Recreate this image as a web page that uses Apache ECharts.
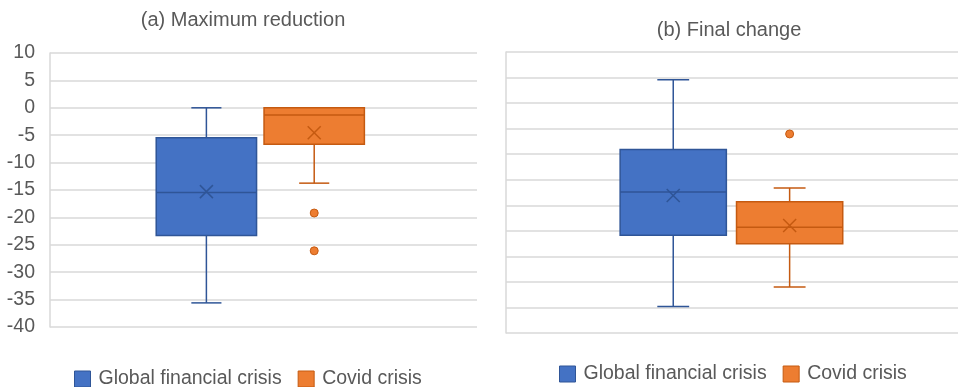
<!DOCTYPE html>
<html>
<head>
<meta charset="utf-8">
<script src="https://cdn.jsdelivr.net/npm/echarts@6/dist/echarts.min.js"></script>
<style>html,body{margin:0;padding:0;background:#fff}#c{width:958px;height:387px}</style>
</head>
<body>
<div id="c"></div>
<script>
// ---- data ----
const seriesNames = ['Global financial crisis', 'Covid crisis'];
const panelTitles = ['(a) Maximum reduction', '(b) Final change'];
const yTicksA = [-40, -35, -30, -25, -20, -15, -10, -5, 0, 5, 10];
const yTicksB = [-35, -30, -25, -20, -15, -10, -5, 0, 5, 10, 15, 20]; // unlabelled in original
// box stats: [min, q1, median, q3, max]
const gfcMaxRed = [-35.6, -23.3, -15.45, -5.45, 0];
const gfcMaxRedMean = -15.3;
const covMaxRed = [-13.75, -6.65, -1.33, 0, 0];
const covMaxRedMean = -4.55;
const covMaxRedOutliers = [-19.2, -26.1];
const gfcFinal = [-29.8, -15.85, -7.4, 0.9, 14.55];
const gfcFinalMean = -8.1;
const covFinal = [-26.0, -17.55, -14.3, -9.3, -6.6];
const covFinalMean = -13.95;
const covFinalOutliers = [3.96];

// ---- style / layout ----
const FONT = 'Liberation Sans';
const TXT = '#595959';
const GRID = '#D9D9D9';
const BLUE = '#4472C4', BLUE_D = '#2F5597';
const ORNG = '#ED7D31', ORNG_D = '#C55A11';
const BOX_W = 0.94;      // in x-axis units
const posA = [1.465, 2.475];
const posB = [1.48, 2.51];

function makeBox(name, axisIdx, xPos, stats, mean, fill, stroke) {
  return {
    type: 'custom', name: name,
    xAxisIndex: axisIdx, yAxisIndex: axisIdx,
    itemStyle: { color: fill, borderColor: stroke },
    encode: { x: 0, y: [1, 2, 3, 4, 5, 6] },
    data: [[xPos].concat(stats).concat([mean])],
    renderItem: function (params, api) {
      const x = api.value(0);
      const p = i => api.coord([x, api.value(i)]);
      const cx = p(1)[0];
      const yMin = p(1)[1], yQ1 = p(2)[1], yMed = p(3)[1], yQ3 = p(4)[1], yMax = p(5)[1], yMean = p(6)[1];
      const w = api.size([BOX_W, 0])[0];
      const cap = w * 0.3;
      const ls = { stroke: stroke, lineWidth: 1.5 };
      const xs = 6.5;
      return {
        type: 'group',
        children: [
          { type: 'line', shape: { x1: cx, y1: yQ3, x2: cx, y2: yMax }, style: ls },
          { type: 'line', shape: { x1: cx, y1: yQ1, x2: cx, y2: yMin }, style: ls },
          { type: 'line', shape: { x1: cx - cap / 2, y1: yMax, x2: cx + cap / 2, y2: yMax }, style: ls },
          { type: 'line', shape: { x1: cx - cap / 2, y1: yMin, x2: cx + cap / 2, y2: yMin }, style: ls },
          { type: 'rect', shape: { x: cx - w / 2, y: yQ3, width: w, height: yQ1 - yQ3 }, style: { fill: fill, stroke: stroke, lineWidth: 1.5 } },
          { type: 'line', shape: { x1: cx - w / 2, y1: yMed, x2: cx + w / 2, y2: yMed }, style: ls },
          { type: 'line', shape: { x1: cx - xs, y1: yMean - xs, x2: cx + xs, y2: yMean + xs }, style: ls },
          { type: 'line', shape: { x1: cx - xs, y1: yMean + xs, x2: cx + xs, y2: yMean - xs }, style: ls }
        ]
      };
    }
  };
}

function makeOutliers(name, axisIdx, xPos, vals) {
  return {
    type: 'scatter', name: name, xAxisIndex: axisIdx, yAxisIndex: axisIdx,
    symbol: 'circle', symbolSize: 8,
    itemStyle: { color: ORNG, borderColor: ORNG_D, borderWidth: 1, opacity: 1 },
    data: vals.map(v => [xPos, v]), silent: true
  };
}

function yAxis(idx, ticks, showLabels) {
  return {
    type: 'value', gridIndex: idx,
    min: ticks[0], max: ticks[ticks.length - 1], interval: ticks[1] - ticks[0],
    axisLine: { show: true, lineStyle: { color: GRID, width: 1.5 } },
    axisTick: { show: false },
    splitLine: { show: true, lineStyle: { color: GRID, width: 1.5 } },
    axisLabel: { show: showLabels, color: TXT, fontFamily: FONT, fontSize: 19.5, margin: 15 }
  };
}

function legend(left, top) {
  return {
    left: left, top: top, orient: 'horizontal', padding: 0,
    itemWidth: 16, itemHeight: 16, itemGap: 16, icon: 'rect',
    textStyle: { color: TXT, fontFamily: FONT, fontSize: 19.5, padding: [0, 0, 0, 3] },
    data: [
      { name: seriesNames[0], itemStyle: { color: BLUE, borderColor: BLUE_D, borderWidth: 1 } },
      { name: seriesNames[1], itemStyle: { color: ORNG, borderColor: ORNG_D, borderWidth: 1 } }
    ],
    selectedMode: false
  };
}

const chart = echarts.init(document.getElementById('c'), null, { renderer: 'canvas' });
chart.setOption({
  animation: false,
  title: [
    { text: panelTitles[0], left: 243, top: 10, textAlign: 'center', padding: 0,
      textStyle: { color: TXT, fontFamily: FONT, fontSize: 20, fontWeight: 'normal' } },
    { text: panelTitles[1], left: 729, top: 20, textAlign: 'center', padding: 0,
      textStyle: { color: TXT, fontFamily: FONT, fontSize: 20, fontWeight: 'normal' } }
  ],
  legend: [legend(74, 369), legend(559, 364)],
  grid: [
    { left: 50, top: 53, width: 427, height: 274 },
    { left: 506, top: 52, width: 452, height: 281 }
  ],
  xAxis: [
    { type: 'value', gridIndex: 0, min: 0, max: 4, show: false, splitLine: { show: false } },
    { type: 'value', gridIndex: 1, min: 0, max: 4, show: false, splitLine: { show: false } }
  ],
  yAxis: [yAxis(0, yTicksA, true), yAxis(1, yTicksB, false)],
  series: [
    makeBox(seriesNames[0], 0, posA[0], gfcMaxRed, gfcMaxRedMean, BLUE, BLUE_D),
    makeBox(seriesNames[1], 0, posA[1], covMaxRed, covMaxRedMean, ORNG, ORNG_D),
    makeOutliers('Covid crisis outliers (a)', 0, posA[1], covMaxRedOutliers),
    makeBox(seriesNames[0], 1, posB[0], gfcFinal, gfcFinalMean, BLUE, BLUE_D),
    makeBox(seriesNames[1], 1, posB[1], covFinal, covFinalMean, ORNG, ORNG_D),
    makeOutliers('Covid crisis outliers (b)', 1, posB[1], covFinalOutliers)
  ]
});
</script>
</body>
</html>
